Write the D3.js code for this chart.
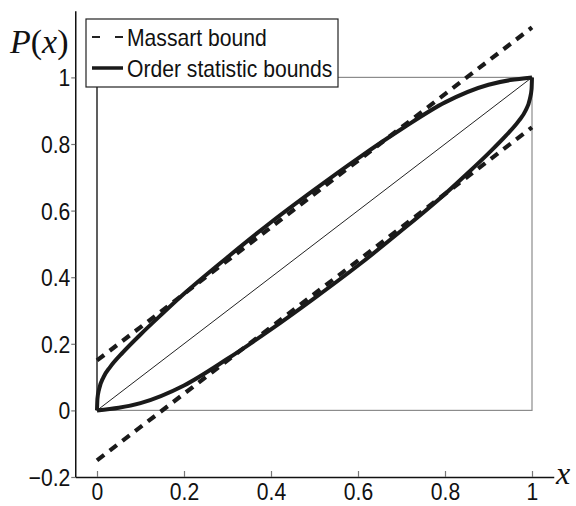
<!DOCTYPE html>
<html>
<head>
<meta charset="utf-8">
<script src="https://cdn.jsdelivr.net/npm/d3@7"></script>
<style>
  body { margin: 0; background: #fff; }
  text { font-family: "Liberation Sans", Arial, sans-serif; fill: #111; }
</style>
</head>
<body>
<div id="chart"></div>
<script>
// values
const xTicks = [0, 0.2, 0.4, 0.6, 0.8, 1];
const xTickLabels = ["0", "0.2", "0.4", "0.6", "0.8", "1"];
const yTicks = [-0.2, 0, 0.2, 0.4, 0.6, 0.8, 1];
const yTickLabels = ["\u22120.2", "0", "0.2", "0.4", "0.6", "0.8", "1"];

const massartX = [0, 1];
const massartUpper = [0.15, 1.15];
const massartLower = [-0.15, 0.85];

const upperX = [0, 0.001, 0.005, 0.015, 0.03, 0.06, 0.1, 0.15, 0.2, 0.3, 0.4, 0.5, 0.6, 0.7, 0.8, 0.9, 0.95, 1];
const upperP = [0, 0.035, 0.065, 0.1, 0.13, 0.175, 0.228, 0.29, 0.35, 0.46, 0.565, 0.663, 0.757, 0.845, 0.925, 0.978, 0.992, 1];
const lowerX = [0, 0.05, 0.1, 0.2, 0.3, 0.4, 0.5, 0.6, 0.7, 0.8, 0.85, 0.9, 0.94, 0.97, 0.985, 0.995, 0.999, 1];
const lowerP = [0, 0.008, 0.022, 0.075, 0.155, 0.243, 0.337, 0.435, 0.54, 0.65, 0.71, 0.772, 0.825, 0.87, 0.9, 0.935, 0.965, 1];

const diagX = [0, 1];
const diagP = [0, 1];

const legendLabels = ["Massart bound", "Order statistic bounds"];

const W = 576, H = 506;

const svg = d3.select('#chart').append('svg')
              .attr('width', W)
              .attr('height', H);

const x = d3.scaleLinear().domain([-0.05, 1.05]).range([75.25, 553.75]);
const y = d3.scaleLinear().domain([-0.2, 1.2]).range([477, 10.8]);

// squeeze text a bit horizontally, the reference font is taller than wide
function squeeze(sel, k) {
  sel.each(function() {
    const len = this.getComputedTextLength();
    d3.select(this).attr('textLength', len * k).attr('lengthAdjust', 'spacingAndGlyphs');
  });
}

// Gray unit box
svg.append('rect')
   .attr('x', x(0))
   .attr('y', y(1))
   .attr('width', x(1) - x(0))
   .attr('height', y(0) - y(1))
   .attr('fill', 'none')
   .attr('stroke', '#8c8c8c')
   .attr('stroke-width', 1.2);
svg.append('line')
   .attr('x1', x(0)).attr('x2', x(0))
   .attr('y1', y(0)).attr('y2', y(1))
   .attr('stroke', '#222')
   .attr('stroke-width', 1.2);

const line = d3.line()
               .x(d => x(d[0]))
               .y(d => y(d[1]));

// Diagonal
svg.append('path')
   .attr('d', line(d3.zip(diagX, diagP)))
   .attr('fill', 'none')
   .attr('stroke', '#222')
   .attr('stroke-width', 1);

// Massart bounds
[massartUpper, massartLower].forEach(function(vals) {
  svg.append('path')
     .attr('d', line(d3.zip(massartX, vals)))
     .attr('fill', 'none')
     .attr('stroke', '#1a1a1a')
     .attr('stroke-width', 4.2)
     .attr('stroke-dasharray', '9,7');
});

// Order statistic bounds
const curve = d3.line()
                .x(d => x(d[0]))
                .y(d => y(d[1]))
                .curve(d3.curveMonotoneX);
[[upperX, upperP], [lowerX, lowerP]].forEach(function(s) {
  svg.append('path')
     .attr('d', curve(d3.zip(s[0], s[1])))
     .attr('fill', 'none')
     .attr('stroke', '#1a1a1a')
     .attr('stroke-width', 4)
     .attr('stroke-linejoin', 'round');
});

// Axes
const xAxis = svg.append('g')
                 .attr('transform', `translate(0,${y(-0.2)})`)
                 .call(d3.axisBottom(x)
                         .tickValues(xTicks)
                         .tickFormat((d, i) => xTickLabels[i])
                         .tickSizeInner(-6)
                         .tickSizeOuter(0)
                         .tickPadding(12));
xAxis.select('.domain').attr('stroke', '#111').attr('stroke-width', 1.5);
xAxis.selectAll('.tick line').attr('stroke', '#777').attr('stroke-width', 1.2);
xAxis.selectAll('.tick text')
     .attr('font-size', 24)
     .attr('y', 23)
     .attr('dy', 0)
     .call(squeeze, 0.88);

const yAxis = svg.append('g')
                 .attr('transform', `translate(${x(-0.05)},0)`)
                 .call(d3.axisLeft(y)
                         .tickValues(yTicks)
                         .tickFormat((d, i) => yTickLabels[i])
                         .tickSizeInner(4)
                         .tickSizeOuter(0)
                         .tickPadding(1));
yAxis.select('.domain').attr('stroke', '#111').attr('stroke-width', 1.5);
yAxis.selectAll('.tick line').attr('stroke', '#777').attr('stroke-width', 1.2);
yAxis.selectAll('.tick text')
     .attr('font-size', 24)
     .attr('dy', 8.5)
     .call(squeeze, 0.88);

// Axis titles
const pTitle = svg.append('text')
                  .attr('x', 10)
                  .attr('y', 53)
                  .attr('font-size', 34)
                  .style('font-family', '"Liberation Serif", "DejaVu Serif", serif');
pTitle.append('tspan').attr('font-style', 'italic').text('P');
pTitle.append('tspan').text('(');
pTitle.append('tspan').attr('font-style', 'italic').text('x');
pTitle.append('tspan').text(')');

svg.append('text')
   .attr('x', 556)
   .attr('y', 484)
   .attr('font-size', 32)
   .attr('font-style', 'italic')
   .style('font-family', '"Liberation Serif", "DejaVu Serif", serif')
   .text('x');

// Legend
const legend = svg.append('g');
legend.append('rect')
      .attr('x', 86)
      .attr('y', 19)
      .attr('width', 252)
      .attr('height', 68)
      .attr('fill', '#fff')
      .attr('stroke', '#222')
      .attr('stroke-width', 1.2);
legend.append('line')
      .attr('x1', 92).attr('x2', 123)
      .attr('y1', 37).attr('y2', 37)
      .attr('stroke', '#222')
      .attr('stroke-width', 2)
      .attr('stroke-dasharray', '8,15');
legend.append('line')
      .attr('x1', 92).attr('x2', 123)
      .attr('y1', 68).attr('y2', 68)
      .attr('stroke', '#1a1a1a')
      .attr('stroke-width', 3.5);
legend.selectAll('text.lab')
      .data(legendLabels)
      .enter()
      .append('text')
      .attr('class', 'lab')
      .attr('x', 127)
      .attr('y', (d, i) => 46 + i * 31)
      .attr('font-size', 24)
      .text(d => d)
      .call(squeeze, 0.88);
</script>
</body>
</html>
